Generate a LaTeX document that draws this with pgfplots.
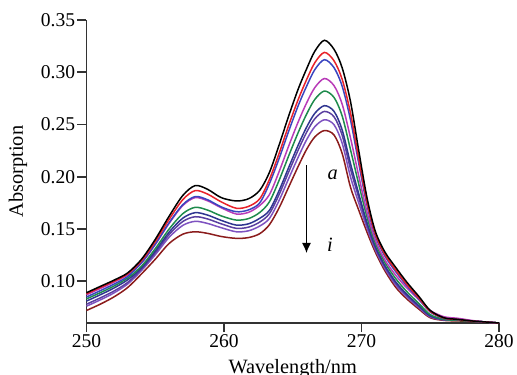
\documentclass[border=0pt]{standalone}
\usepackage{fontspec}
\setmainfont{Liberation Serif}
\usepackage{pgfplots}
\pgfplotsset{compat=1.18}
\usetikzlibrary{arrows.meta}
\definecolor{cRed}{HTML}{E8222A}
\definecolor{cBlue}{HTML}{3A45C0}
\definecolor{cMag}{HTML}{B83CB8}
\definecolor{cGreen}{HTML}{1E8B4C}
\definecolor{cNavy}{HTML}{2F3590}
\definecolor{cPurple}{HTML}{5A3FA0}
\definecolor{cViolet}{HTML}{7E52C0}
\definecolor{cMaroon}{HTML}{8B1C1C}
\definecolor{axgray}{HTML}{333333}
\begin{document}
\begin{tikzpicture}
\path[use as bounding box] (-43.25bp,-26bp) rectangle (215.25bp,161.5bp);
\begin{axis}[
  at={(0,0)}, anchor=south west,
  width=206.25bp, height=151.5bp, scale only axis,
  xmin=250, xmax=280, ymin=0.06, ymax=0.35,
  axis x line*=bottom, axis y line*=left,
  axis line style={-, line width=0.9bp, color=axgray},
  tick align=outside, major tick length=4.5bp,
  tick style={line width=0.9bp, color=axgray},
  xtick={250,260,270,280},
  ytick={0.10,0.15,0.20,0.25,0.30,0.35},
  yticklabel style={/pgf/number format/fixed, /pgf/number format/fixed zerofill, /pgf/number format/precision=2},
  /pgf/number format/assume math mode=true,
  tick label style={font=\fontsize{9.8}{11}\selectfont, inner sep=1bp},
  scaled y ticks=false,
  xlabel={Wavelength/nm}, ylabel={Absorption},
  label style={font=\fontsize{10.2}{12}\selectfont},
  xlabel style={at={(axis description cs:0.5,-0.1188)}, anchor=north, inner sep=0pt},
  ylabel style={at={(axis description cs:-0.166,0.5)}, anchor=center},
  every axis plot/.append style={line width=0.75bp, smooth, no markers},
  clip=false,
]
% i maroon
\addplot[cMaroon] coordinates {(250,.072)(251,.078)(252,.085)(253,.094)(254,.107)(255,.121)(256,.136)(257,.145)(257.9,.1473)(258.8,.1458)(259.8,.1428)(260.9,.141)(261.8,.1418)(262.6,.1455)(263.3,.154)(264,.170)(264.7,.190)(265.4,.210)(266,.226)(266.6,.238)(267.3,.2442)(268,.240)(268.6,.222)(269.2,.190)(269.8,.168)(270.4,.147)(271,.128)(271.7,.110)(272.5,.094)(273.3,.083)(274.2,.073)(275,.065)(276,.0625)(277,.062)(278,.0615)(279,.061)(280,.060)};
% h violet
\addplot[cViolet] coordinates {(250,.0761)(251,.0821)(252,.0888)(253,.0974)(254,.1102)(255,.1253)(256,.1419)(257,.1534)(257.9,.1573)(258.8,.1553)(259.8,.1512)(260.9,.1473)(261.8,.1483)(262.6,.1528)(263.3,.160)(264,.1771)(264.7,.1981)(265.4,.2188)(266,.2352)(266.6,.2478)(267.3,.2545)(268,.2498)(268.6,.2318)(269.2,.1998)(269.8,.1748)(270.4,.1509)(271,.1304)(271.7,.1121)(272.5,.0963)(273.3,.0849)(274.2,.0744)(275,.0658)(276,.063)(277,.063)(278,.062)(279,.061)(280,.060)};
% g purple
\addplot[cPurple] coordinates {(250,.078)(251,.084)(252,.0906)(253,.0989)(254,.1116)(255,.1272)(256,.1445)(257,.1571)(257.9,.1617)(258.8,.1596)(259.8,.1549)(260.9,.1506)(261.8,.1518)(262.6,.1566)(263.3,.1646)(264,.1827)(264.7,.2044)(265.4,.2257)(266,.2423)(266.6,.2554)(267.3,.2625)(268,.2574)(268.6,.2394)(269.2,.2074)(269.8,.1801)(270.4,.154)(271,.1322)(271.7,.1138)(272.5,.098)(273.3,.0864)(274.2,.0755)(275,.0665)(276,.063)(277,.0635)(278,.062)(279,.061)(280,.060)};
% f navy
\addplot[cNavy] coordinates {(250,.081)(251,.087)(252,.0935)(253,.1014)(254,.1128)(255,.1289)(256,.1468)(257,.1603)(257.9,.1656)(258.8,.1633)(259.8,.1582)(260.9,.1537)(261.8,.155)(262.6,.1602)(263.3,.1678)(264,.1865)(264.7,.2087)(265.4,.2304)(266,.2472)(266.6,.2606)(267.3,.268)(268,.2626)(268.6,.2446)(269.2,.2126)(269.8,.1837)(270.4,.1561)(271,.1335)(271.7,.115)(272.5,.0992)(273.3,.0874)(274.2,.0763)(275,.0669)(276,.0635)(277,.064)(278,.062)(279,.061)(280,.060)};
% e green
\addplot[cGreen] coordinates {(250,.0831)(251,.089)(252,.0954)(253,.1031)(254,.1144)(255,.1311)(256,.1498)(257,.1646)(257.9,.1707)(258.8,.1681)(259.8,.1625)(260.9,.1585)(261.8,.160)(262.6,.1658)(263.3,.1759)(264,.1963)(264.7,.2198)(265.4,.2424)(266,.2597)(266.6,.2739)(267.3,.282)(268,.2759)(268.6,.2579)(269.2,.2259)(269.8,.1929)(270.4,.1614)(271,.1368)(271.7,.1179)(272.5,.1023)(273.3,.090)(274.2,.0783)(275,.068)(276,.0635)(277,.0625)(278,.0617)(279,.061)(280,.060)};
% d magenta
\addplot[cMag] coordinates {(250,.087)(251,.093)(252,.0991)(253,.1063)(254,.1174)(255,.1351)(256,.1552)(257,.1724)(257.9,.180)(258.8,.177)(259.8,.1703)(260.9,.1643)(261.8,.166)(262.6,.1725)(263.3,.1828)(264,.2046)(264.7,.2292)(265.4,.2526)(266,.2704)(266.6,.2852)(267.3,.294)(268,.2872)(268.6,.2692)(269.2,.2372)(269.8,.2008)(270.4,.166)(271,.1395)(271.7,.1204)(272.5,.1055)(273.3,.0935)(274.2,.082)(275,.072)(276,.066)(277,.0645)(278,.0625)(279,.061)(280,.060)};
% c blue
\addplot[cBlue] coordinates {(250,.0849)(251,.0909)(252,.0972)(253,.1046)(254,.1177)(255,.1355)(256,.1558)(257,.1732)(257.9,.181)(258.8,.178)(259.8,.1711)(260.9,.1665)(261.8,.1683)(262.6,.175)(263.3,.1933)(264,.2171)(264.7,.2434)(265.4,.2681)(266,.2864)(266.6,.3024)(267.3,.312)(268,.3044)(268.6,.2864)(269.2,.2544)(269.8,.2127)(270.4,.1729)(271,.1437)(271.7,.1241)(272.5,.1089)(273.3,.0956)(274.2,.0824)(275,.0705)(276,.0645)(277,.0632)(278,.0619)(279,.061)(280,.060)};
% b red
\addplot[cRed] coordinates {(250,.088)(251,.094)(252,.100)(253,.107)(254,.1195)(255,.138)(256,.159)(257,.178)(257.9,.1867)(258.8,.1834)(259.8,.1759)(260.9,.1698)(261.8,.1717)(262.6,.1789)(263.3,.1973)(264,.222)(264.7,.249)(265.4,.274)(266,.2927)(266.6,.309)(267.3,.319)(268,.311)(268.6,.293)(269.2,.261)(269.8,.2174)(270.4,.1756)(271,.1453)(271.7,.1256)(272.5,.1105)(273.3,.0969)(274.2,.0834)(275,.0711)(276,.0647)(277,.0633)(278,.0619)(279,.061)(280,.060)};
% a black
\addplot[black] coordinates {(250,.089)(251,.095)(252,.101)(253,.108)(254,.121)(255,.140)(256,.162)(257,.182)(257.9,.1915)(258.8,.188)(259.8,.180)(260.9,.1768)(261.8,.179)(262.6,.187)(263.3,.204)(264,.230)(264.7,.258)(265.4,.284)(266,.303)(266.6,.320)(267.3,.3306)(268,.322)(268.6,.304)(269.2,.272)(269.8,.225)(270.4,.180)(271,.148)(271.7,.128)(272.5,.113)(273.3,.099)(274.2,.085)(275,.072)(276,.065)(277,.0635)(278,.062)(279,.061)(280,.060)};
\draw[black, line width=0.6bp, -{Latex[length=5bp,width=4.5bp]}] (axis cs:266.0,0.211) -- (axis cs:266.0,0.127);
\node[font=\fontsize{10.2}{12}\selectfont\itshape] at (axis cs:267.9,0.2017) {a};
\node[font=\fontsize{10.2}{12}\selectfont\itshape] at (axis cs:267.7,0.1345) {i};
\end{axis}
\end{tikzpicture}
\end{document}
